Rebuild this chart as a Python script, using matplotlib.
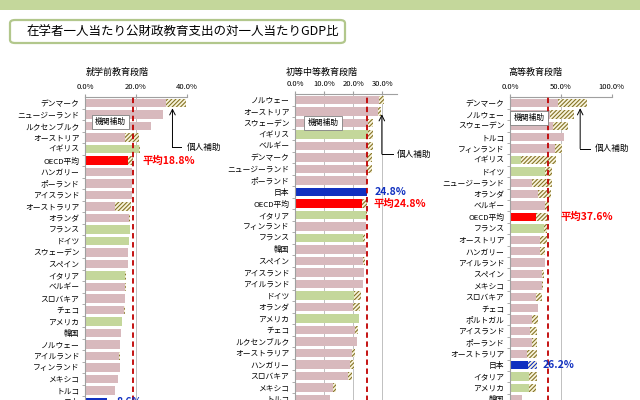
import matplotlib.pyplot as plt
from matplotlib.patches import Rectangle, FancyBboxPatch

plt.rcParams['font.family'] = ['Noto Sans CJK JP', 'DejaVu Sans']
plt.rcParams['hatch.linewidth'] = 0.8

# 就学前教育段階
pre_names = ['デンマーク', 'ニュージーランド', 'ルクセンブルク', 'オーストリア', 'イギリス',
             'OECD平均', 'ハンガリー', 'ポーランド', 'アイスランド', 'オーストラリア', 'オランダ',
             'フランス', 'ドイツ', 'スウェーデン', 'スペイン', 'イタリア', 'ベルギー', 'スロバキア',
             'チェコ', 'アメリカ', '韓国', 'ノルウェー', 'アイルランド', 'フィンランド', 'メキシコ',
             'トルコ', '日本']
pre_public = [31.8, 30.7, 25.8, 15.5, 21.0, 17.0, 18.4, 18.4, 18.3, 11.6, 17.1,
              17.8, 17.1, 16.8, 16.8, 15.8, 15.8, 15.5, 15.2, 14.7, 14.1, 13.9,
              13.5, 13.6, 12.8, 11.6, 8.6]
pre_private = [7.8, 0, 0, 5.8, 0.5, 1.8, 0, 0, 0, 6.4, 0.7,
               0, 0, 0, 0, 0.4, 0.3, 0, 0.4, 0, 0, 0,
               0.4, 0, 0, 0, 0]

# 初等中等教育段階
sec_names = ['ノルウェー', 'オーストリア', 'スウェーデン', 'イギリス', 'ベルギー', 'デンマーク',
             'ニュージーランド', 'ポーランド', '日本', 'OECD平均', 'イタリア', 'フィンランド',
             'フランス', '韓国', 'スペイン', 'アイスランド', 'アイルランド', 'ドイツ', 'オランダ',
             'アメリカ', 'チェコ', 'ルクセンブルク', 'オーストラリア', 'ハンガリー', 'スロバキア',
             'メキシコ', 'トルコ']
sec_public = [28.9, 28.4, 25.2, 24.9, 25.2, 24.6, 24.6, 24.6, 24.8, 22.9, 24.3, 24.4,
              23.5, 24.2, 23.5, 23.6, 23.5, 20.3, 20.0, 22.1, 20.6, 21.2, 19.5, 18.9,
              18.3, 12.9, 12.0]
sec_private = [1.6, 1.0, 1.6, 1.8, 1.5, 1.7, 1.7, 0, 0, 1.9, 0.4, 0,
               0.6, 0, 0.4, 0, 0, 2.4, 2.3, 0, 0.9, 0, 1.1, 1.4,
               1.4, 1.1, 0]

# 高等教育段階
ter_names = ['デンマーク', 'ノルウェー', 'スウェーデン', 'トルコ', 'フィンランド', 'イギリス',
             'ドイツ', 'ニュージーランド', 'オランダ', 'ベルギー', 'OECD平均', 'フランス',
             'オーストリア', 'ハンガリー', 'アイルランド', 'スペイン', 'メキシコ', 'スロバキア',
             'チェコ', 'ポルトガル', 'アイスランド', 'ポーランド', 'オーストラリア', '日本',
             'イタリア', 'アメリカ', '韓国']
ter_public = [47.5, 39.3, 42.6, 53.1, 44.3, 10.5, 34.4, 21.3, 27.9, 34.4, 25.6, 33.8,
              29.5, 29.5, 34.4, 31.1, 31.5, 25.6, 27.9, 21.3, 19.7, 21.3, 17.0, 18.0,
              19.0, 19.0, 11.5]
ter_private = [27.9, 23.7, 14.8, 0, 7.2, 34.4, 6.6, 19.7, 12.4, 4.0, 12.0, 2.3,
               7.2, 4.9, 0, 2.3, 1.3, 5.5, 0, 6.6, 7.2, 5.6, 9.2, 8.2,
               7.2, 6.6, 0]

green_countries = ['イギリス', 'フランス', 'ドイツ', 'イタリア', 'アメリカ']
panel_titles = ['就学前教育段階', '初等中等教育段階', '高等教育段階']

PINK = '#d8b9bd'
GREEN = '#c4d79b'
RED = '#ff0000'
BLUE = '#1030c0'
OLIVE = '#857326'
HATCH_FACE = '#f8f4dc'
DARKRED = '#c00000'

W, H = 640, 400
fig = plt.figure(figsize=(6.4, 4.0), dpi=100)


def bar_color(name):
    if name == '日本':
        return BLUE
    if name == 'OECD平均':
        return RED
    if name in green_countries:
        return GREEN
    return PINK


def make_axes(left, right, top, row0, step):
    off = (row0 - top) / step
    nrows = 27.5 + off
    bottom = top + nrows * step
    ax = fig.add_axes([left / W, 1 - bottom / H, (right - left) / W, (bottom - top) / H])
    ax.set_ylim(27.5, -off)
    return ax


def draw_panel(ax, names, public, private, xmax, ticks):
    rows = list(range(len(names)))
    ax.barh(rows, public, height=0.72, color=[bar_color(n) for n in names], zorder=2)
    ax.barh(rows, private, left=public, height=0.72, color=HATCH_FACE,
            edgecolor=[BLUE if n == '日本' else OLIVE for n in names],
            linewidth=0, hatch='////////', zorder=2)
    ax.set_xlim(0, xmax)
    ax.set_yticks(rows, names)
    ax.set_yticks([r + 0.5 for r in rows], minor=True)
    ax.tick_params(axis='y', which='major', length=0, pad=4, labelsize=5.6)
    ax.tick_params(axis='y', which='minor', length=2, color='#a0a0a0')
    ax.xaxis.tick_top()
    ax.set_xticks(ticks, [f'{t:.1f}%' for t in ticks])
    ax.tick_params(axis='x', length=2, pad=2, labelsize=5.5, color='#a0a0a0')
    ax.grid(axis='x', color='#c0c0c0', lw=0.7, zorder=0)
    ax.set_axisbelow(True)
    for s in ['right', 'bottom']:
        ax.spines[s].set_visible(False)
    for s in ['top', 'left']:
        ax.spines[s].set_color('#a0a0a0')
        ax.spines[s].set_linewidth(0.8)
    i = names.index('OECD平均')
    mean = public[i] + private[i]
    ax.axvline(mean, color=DARKRED, ls=(0, (3, 2)), lw=1.3, zorder=3)
    return mean


def label(ax, names, public, private, name, prefix, color, dx):
    i = names.index(name)
    total = public[i] + private[i]
    ax.annotate(f'{prefix}{total:.1f}%', xy=(total, i), xytext=(dx, 0),
                textcoords='offset points', va='center', ha='left',
                color=color, fontsize=7.5, fontweight='bold', annotation_clip=False)


def helpers(ax, box_xy, tip, corner_y, end_x, text_x):
    ax.text(box_xy[0], box_xy[1], '機関補助', fontsize=5.6, ha='center', va='center', zorder=5,
            bbox=dict(boxstyle='square,pad=0.4', fc='white', ec='#808080', lw=0.6))
    ax.annotate('', xy=tip, xytext=(tip[0], corner_y),
                arrowprops=dict(arrowstyle='->', lw=0.7, color='black', shrinkA=0, shrinkB=0),
                annotation_clip=False, zorder=5)
    ax.plot([tip[0], end_x], [corner_y, corner_y], color='black', lw=0.7, clip_on=False, zorder=5)
    ax.text(text_x, corner_y, '個人補助', fontsize=6.2, ha='left', va='center', clip_on=False)


# top band and title box
fig.patches.append(Rectangle((0, 1 - 10 / H), 1, 10 / H, transform=fig.transFigure,
                             fc='#c4d79b', ec='none'))
fig.patches.append(FancyBboxPatch((10 / W, 1 - 43 / H), 335 / W, 23 / H,
                                  boxstyle='round,pad=0,rounding_size=0.008',
                                  transform=fig.transFigure, fc='white', ec='#b2c78c', lw=1.6))
fig.text(27 / W, 1 - 32 / H, '在学者一人当たり公財政教育支出の対一人当たりGDP比',
         fontsize=9.0, ha='left', va='center')

# panel 1
ax1 = make_axes(85, 187, 97, 103, 11.5)
draw_panel(ax1, pre_names, pre_public, pre_private, 40, [0, 20, 40])
label(ax1, pre_names, pre_public, pre_private, 'OECD平均', '平均', RED, 7.2)
label(ax1, pre_names, pre_public, pre_private, '日本', '', BLUE, 7.2)
helpers(ax1, (10, 1.65), (34.3, 0.46), 3.83, 37.5, 39.9)

# panel 2
ax2 = make_axes(295, 397, 94, 100, 11.5)
draw_panel(ax2, sec_names, sec_public, sec_private, 35, [0, 10, 20, 30])
label(ax2, sec_names, sec_public, sec_private, '日本', '', BLUE, 4.9)
label(ax2, sec_names, sec_public, sec_private, 'OECD平均', '平均', RED, 4.2)
helpers(ax2, (9.6, 2.0), (29.8, 1.24), 4.7, 33.7, 35.0)

# panel 3
ax3 = make_axes(510, 611.7, 97, 103, 11.4)
draw_panel(ax3, ter_names, ter_public, ter_private, 100, [0, 50, 100])
label(ax3, ter_names, ter_public, ter_private, 'OECD平均', '平均', RED, 8.5)
label(ax3, ter_names, ter_public, ter_private, '日本', '', BLUE, 4.6)
helpers(ax3, (18.7, 1.3), (69, 0.46), 4.0, 79, 83)

for x, t in zip([117, 322, 535], panel_titles):
    fig.text(x / W, 1 - 72 / H, t, fontsize=6.5, ha='center', va='center')

fig.savefig('out.png', dpi=100)
